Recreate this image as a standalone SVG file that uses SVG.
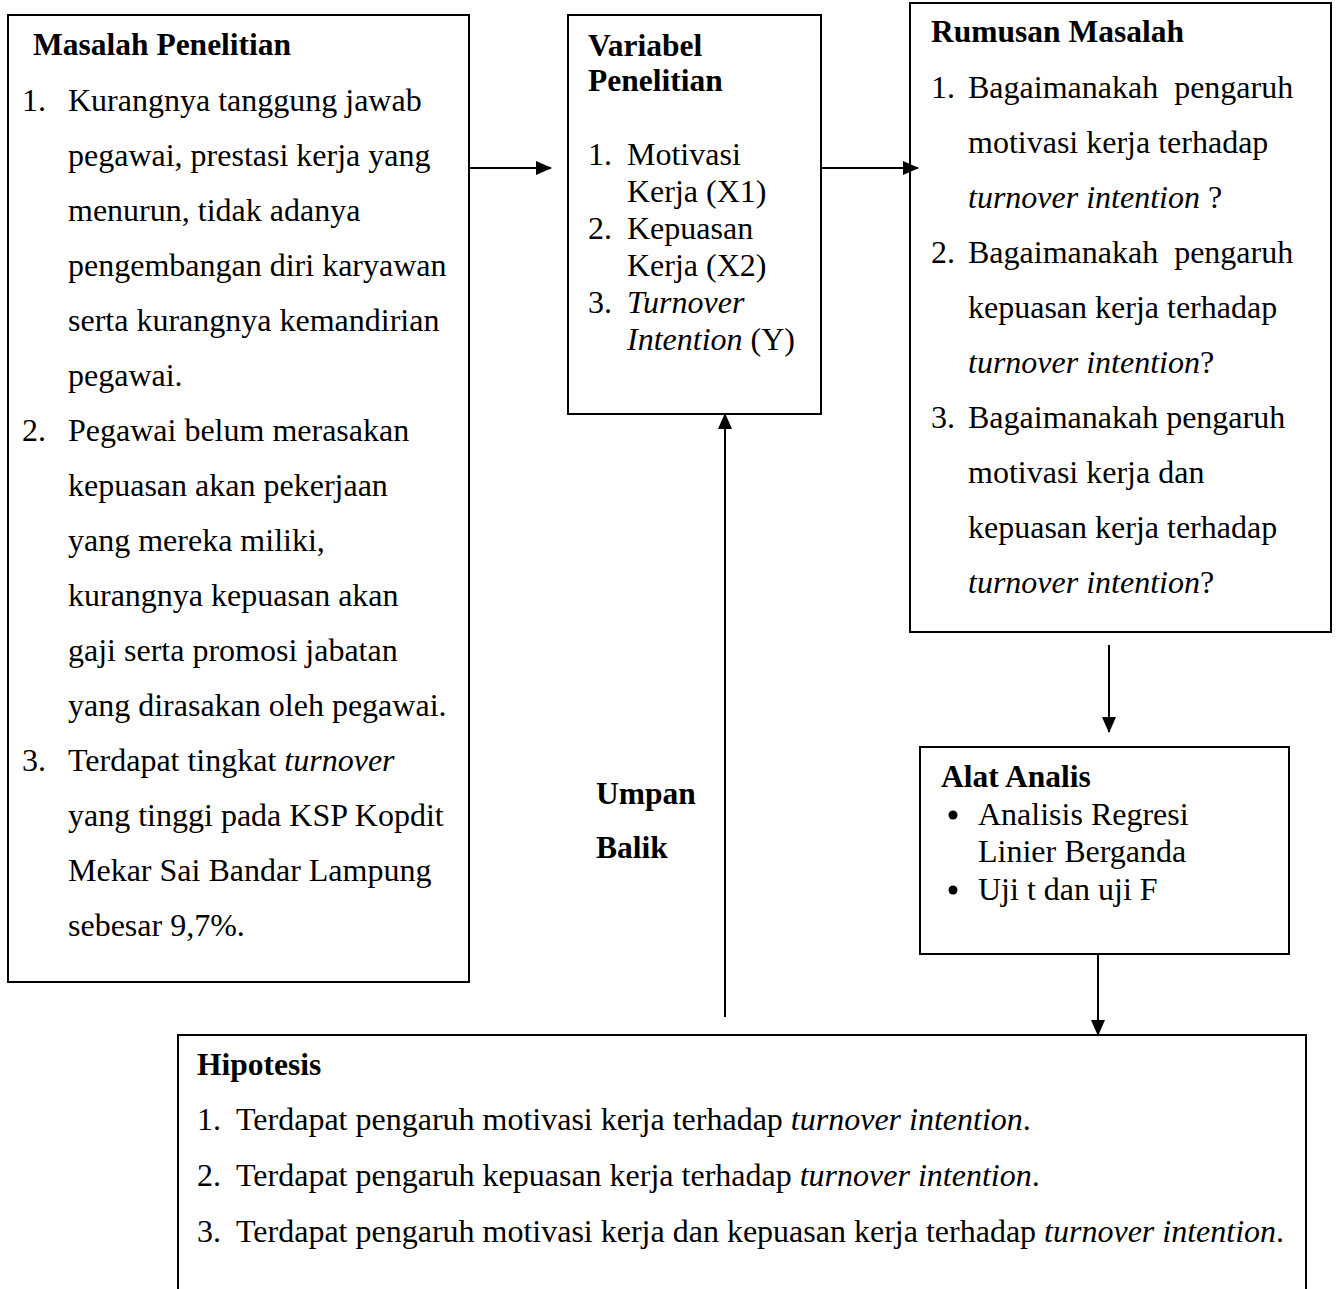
<svg xmlns="http://www.w3.org/2000/svg" width="1336" height="1289" viewBox="0 0 1336 1289">
<defs>
<style>
.box{fill:#fff;stroke:#000;stroke-width:2}
.ln{fill:none;stroke:#000;stroke-width:2}
text{font-family:"Liberation Serif","Times New Roman",serif;font-size:32px;fill:#000}
.b{font-weight:bold;font-size:31.5px}
.i{font-style:italic}
</style>
<marker id="ah" markerWidth="16" markerHeight="14" refX="15" refY="7" orient="auto" markerUnits="userSpaceOnUse" viewBox="0 0 16 14">
<path d="M0,0 L16,7 L0,14 z" fill="#000"/>
</marker>
</defs>
<rect width="1336" height="1289" fill="#fff"/>

<g id="masalah">
<rect class="box" x="8" y="15" width="461" height="967"/>
<text class="b" x="33" y="55">Masalah Penelitian</text>
<text x="22" y="111">1.</text><text x="68" y="111">Kurangnya tanggung jawab</text>
<text x="68" y="166">pegawai, prestasi kerja yang</text>
<text x="68" y="221">menurun, tidak adanya</text>
<text x="68" y="276">pengembangan diri karyawan</text>
<text x="68" y="331">serta kurangnya kemandirian</text>
<text x="68" y="386">pegawai.</text>
<text x="22" y="441">2.</text><text x="68" y="441">Pegawai belum merasakan</text>
<text x="68" y="496">kepuasan akan pekerjaan</text>
<text x="68" y="551">yang mereka miliki,</text>
<text x="68" y="606">kurangnya kepuasan akan</text>
<text x="68" y="661">gaji serta promosi jabatan</text>
<text x="68" y="716">yang dirasakan oleh pegawai.</text>
<text x="22" y="771">3.</text><text x="68" y="771">Terdapat tingkat <tspan class="i">turnover</tspan></text>
<text x="68" y="826">yang tinggi pada KSP Kopdit</text>
<text x="68" y="881">Mekar Sai Bandar Lampung</text>
<text x="68" y="936">sebesar 9,7%.</text>
</g>

<g id="variabel">
<rect class="box" x="568" y="15" width="253" height="399"/>
<text class="b" x="588" y="56">Variabel</text>
<text class="b" x="588" y="91">Penelitian</text>
<text x="588" y="165">1.</text><text x="627" y="165">Motivasi</text>
<text x="627" y="202">Kerja (X1)</text>
<text x="588" y="239">2.</text><text x="627" y="239">Kepuasan</text>
<text x="627" y="276">Kerja (X2)</text>
<text x="588" y="313">3.</text><text class="i" x="627" y="313">Turnover</text>
<text x="627" y="350"><tspan class="i">Intention</tspan> (Y)</text>
</g>

<g id="rumusan">
<rect class="box" x="910" y="3" width="421" height="629"/>
<text class="b" x="931" y="42">Rumusan Masalah</text>
<text x="931" y="98">1.</text><text x="968" y="98" xml:space="preserve">Bagaimanakah  pengaruh</text>
<text x="968" y="153">motivasi kerja terhadap</text>
<text x="968" y="208"><tspan class="i">turnover intention</tspan> ?</text>
<text x="931" y="263">2.</text><text x="968" y="263" xml:space="preserve">Bagaimanakah  pengaruh</text>
<text x="968" y="318">kepuasan kerja terhadap</text>
<text x="968" y="373"><tspan class="i">turnover intention</tspan>?</text>
<text x="931" y="428">3.</text><text x="968" y="428">Bagaimanakah pengaruh</text>
<text x="968" y="483">motivasi kerja dan</text>
<text x="968" y="538">kepuasan kerja terhadap</text>
<text x="968" y="593"><tspan class="i">turnover intention</tspan>?</text>
</g>

<g id="alat">
<rect class="box" x="920" y="747" width="369" height="207"/>
<text class="b" x="941" y="787">Alat Analis</text>
<circle cx="953" cy="815" r="4.5" fill="#000"/><text x="978" y="825">Analisis Regresi</text>
<text x="978" y="862">Linier Berganda</text>
<circle cx="953" cy="890" r="4.5" fill="#000"/><text x="978" y="900">Uji t dan uji F</text>
</g>

<g id="umpan">
<text class="b" x="596" y="804">Umpan</text>
<text class="b" x="596" y="858">Balik</text>
</g>

<g id="hipotesis">
<path class="ln" d="M178,1289 V1035 H1306 V1289"/>
<text class="b" x="197" y="1075">Hipotesis</text>
<text x="197" y="1130">1.</text><text x="236" y="1130">Terdapat pengaruh motivasi kerja terhadap <tspan class="i">turnover intention</tspan>.</text>
<text x="197" y="1186">2.</text><text x="236" y="1186">Terdapat pengaruh kepuasan kerja terhadap <tspan class="i">turnover intention</tspan>.</text>
<text x="197" y="1242">3.</text><text x="236" y="1242">Terdapat pengaruh motivasi kerja dan kepuasan kerja terhadap <tspan class="i">turnover intention</tspan>.</text>
</g>

<g id="connectors">
<line class="ln" x1="469" y1="168" x2="551" y2="168" marker-end="url(#ah)"/>
<line class="ln" x1="821" y1="168" x2="918" y2="168" marker-end="url(#ah)"/>
<line class="ln" x1="725" y1="1017" x2="725" y2="414" marker-end="url(#ah)"/>
<line class="ln" x1="1109" y1="645" x2="1109" y2="732" marker-end="url(#ah)"/>
<line class="ln" x1="1098" y1="954" x2="1098" y2="1035" marker-end="url(#ah)"/>
</g>
</svg>
